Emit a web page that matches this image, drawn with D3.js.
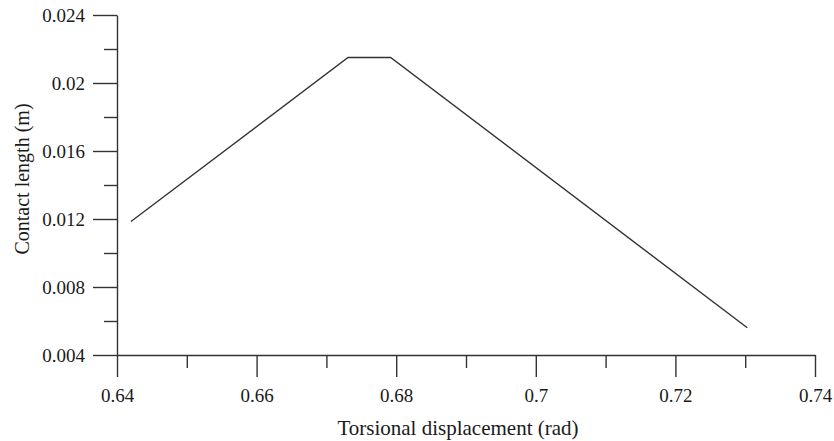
<!DOCTYPE html>
<html>
<head>
<meta charset="utf-8">
<script src="https://cdn.jsdelivr.net/npm/d3@7"></script>
<style>
  html, body { margin: 0; padding: 0; background: #fff; }
  svg { display: block; font-family: "Liberation Serif", "DejaVu Serif", serif; }
</style>
</head>
<body>
<svg id="chart" width="834" height="441"></svg>
<script>
// Contact length versus torsional displacement
const displacement = [0.642, 0.6731, 0.6792, 0.7303];
const contactLength = [0.01185, 0.02150, 0.02150, 0.00560];

const xMajorTicks = [0.64, 0.66, 0.68, 0.70, 0.72, 0.74];
const xMinorTicks = [0.65, 0.67, 0.69, 0.71, 0.73];
const yMajorTicks = [0.004, 0.008, 0.012, 0.016, 0.020, 0.024];
const yMinorTicks = [0.006, 0.010, 0.014, 0.018, 0.022];

const xLabel = "Torsional displacement (rad)";
const yLabel = "Contact length (m)";

const svg = d3.select("#chart");
const margin = { left: 117, right: 19, top: 15, bottom: 86 };
const W = 834, H = 441;

const x = d3.scaleLinear().domain([0.64, 0.74]).range([margin.left, W - margin.right]);
const y = d3.scaleLinear().domain([0.004, 0.024]).range([H - margin.bottom, margin.top]);

const fmt = d => String(+d.toFixed(3));
const axisColor = "#333";
const fontStack = "'Liberation Serif', 'DejaVu Serif', serif";

// x axis: labelled major ticks, unlabelled minor ticks
const gx = svg.append("g").attr("transform", `translate(0,${y(0.004)})`);
gx.call(d3.axisBottom(x).tickValues(xMajorTicks).tickFormat(fmt).tickSize(22).tickPadding(12).tickSizeOuter(0));
gx.append("g").call(d3.axisBottom(x).tickValues(xMinorTicks).tickFormat("").tickSize(13).tickSizeOuter(0))
  .select(".domain").remove();

// y axis
const gy = svg.append("g").attr("transform", `translate(${x(0.64)},0)`);
gy.call(d3.axisLeft(y).tickValues(yMajorTicks).tickFormat(fmt).tickSize(24).tickPadding(8).tickSizeOuter(0));
gy.append("g").call(d3.axisLeft(y).tickValues(yMinorTicks).tickFormat("").tickSize(13).tickSizeOuter(0))
  .select(".domain").remove();

svg.selectAll(".domain, .tick line").attr("stroke", axisColor).attr("stroke-width", 1.4);
svg.selectAll(".tick text").attr("fill", "#1a1a1a").style("font-size", "19px")
  .style("font-family", fontStack);

// data line
const pts = displacement.map((d, i) => [d, contactLength[i]]);
svg.append("path")
  .datum(pts)
  .attr("fill", "none")
  .attr("stroke", "#333")
  .attr("stroke-width", 1.4)
  .attr("d", d3.line().x(d => x(d[0])).y(d => y(d[1])));

// axis titles
svg.append("text")
  .attr("x", 458)
  .attr("y", 435)
  .attr("text-anchor", "middle")
  .attr("fill", "#1a1a1a")
  .style("font-size", "21px")
  .text(xLabel);

svg.append("text")
  .attr("transform", `translate(29,179) rotate(-90)`)
  .attr("text-anchor", "middle")
  .attr("fill", "#1a1a1a")
  .style("font-size", "20px")
  .text(yLabel);
</script>
</body>
</html>
